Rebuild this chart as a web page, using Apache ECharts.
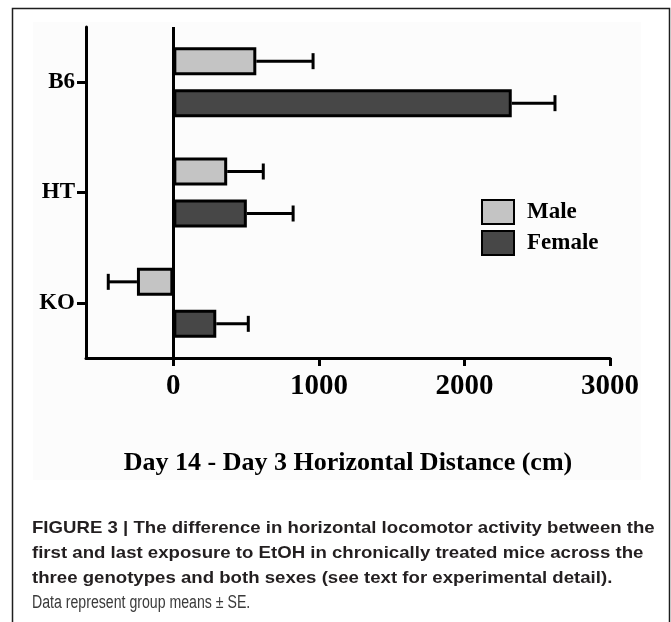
<!DOCTYPE html>
<html>
<head>
<meta charset="utf-8">
<script src="https://cdn.jsdelivr.net/npm/echarts@6/dist/echarts.min.js"></script>
<style>
html,body{margin:0;padding:0;background:#fff;}
#chart{width:671px;height:622px;}
</style>
</head>
<body>
<div id="chart"></div>
<script>
const categories = ['B6', 'HT', 'KO'];
const seriesNames = ['Male', 'Female'];
const maleMeans = [570, 370, -250];
const maleSE = [390, 248, 197];
const femaleMeans = [2325, 505, 295];
const femaleSE = [297, 318, 220];
const xTickValues = [0, 1000, 2000, 3000];
const xMin = -600;
const xMax = 3000;
const xAxisTitle = 'Day 14 - Day 3 Horizontal Distance (cm)';
const captionBold = [
  'FIGURE 3 | The difference in horizontal locomotor activity between the',
  'first and last exposure to EtOH in chronically treated mice across the',
  'three genotypes and both sexes (see text for experimental detail).'
];
const captionRegular = 'Data represent group means \u00b1 SE.';

const SERIF = "'Liberation Serif','Times New Roman',serif";
const SANS = "'Liberation Sans',Arial,sans-serif";
const BAR_W = 28;
const BAR_GAP = '50%';
const OFFSET = 21;

function errData(means, se) {
  return means.map((m, i) => [m, i, se[i]]);
}
function errRender(offset) {
  return function (params, api) {
    const v = api.value(0), ci = api.value(1), se = api.value(2);
    const end = v >= 0 ? v + se : v - se;
    const p0 = api.coord([v, ci]);
    const p1 = api.coord([end, ci]);
    const y = p0[1] + offset;
    const style = { stroke: '#000', lineWidth: 3 };
    return {
      type: 'group',
      children: [
        { type: 'line', shape: { x1: p0[0], y1: y, x2: p1[0], y2: y }, style },
        { type: 'line', shape: { x1: p1[0], y1: y - 8, x2: p1[0], y2: y + 8 }, style }
      ]
    };
  };
}

const chart = echarts.init(document.getElementById('chart'), null, { renderer: 'canvas' });
const graphics = [
  { type: 'rect', z: -10, shape: { x: 33, y: 22, width: 608, height: 458 }, style: { fill: '#fcfcfc' } },
  { type: 'rect', z: 100, shape: { x: 12.5, y: 8.5, width: 657, height: 700 }, style: { fill: 'none', stroke: '#1e1e1e', lineWidth: 1.5 } }
];
captionBold.forEach((t, i) => {
  graphics.push({ type: 'text', x: 32, y: 528 + i * 25, scaleX: 1.095, style: { text: t, font: 'bold 17px ' + SANS, fill: '#231f20', verticalAlign: 'middle' } });
});
graphics.push({ type: 'text', x: 32, y: 603, scaleX: 0.785, style: { text: captionRegular, font: '18px ' + SANS, fill: '#3a3a3a', verticalAlign: 'middle' } });

chart.setOption({
  animation: false,
  backgroundColor: '#ffffff',
  graphic: graphics,
  grid: { left: 86, right: 61, top: 27, height: 331, containLabel: false },
  legend: {
    orient: 'vertical', left: 481, top: 199, padding: 0, itemWidth: 32, itemHeight: 24, itemGap: 5,
    icon: 'rect',
    textStyle: { fontFamily: SERIF, fontWeight: 'bold', fontSize: 23, color: '#000', padding: [0, 0, 0, 8] },
    data: seriesNames
  },
  xAxis: {
    type: 'value', min: xMin, max: xMax,
    name: xAxisTitle, nameLocation: 'middle', nameGap: 92,
    nameTextStyle: { fontFamily: SERIF, fontWeight: 'bold', fontSize: 26, color: '#000' },
    axisLine: { show: true, onZero: false, lineStyle: { color: '#000', width: 3 } },
    axisTick: { show: true, length: 8, lineStyle: { color: '#000', width: 3 }, customValues: xTickValues },
    axisLabel: { fontFamily: SERIF, fontWeight: 'bold', fontSize: 29, color: '#000', margin: 14,
      customValues: xTickValues, formatter: v => String(v) },
    splitLine: { show: false }
  },
  yAxis: {
    type: 'category', inverse: true, data: categories,
    axisLine: { show: true, onZero: false, lineStyle: { color: '#000', width: 3 } },
    axisTick: { show: true, alignWithLabel: true, length: 9, lineStyle: { color: '#000', width: 3 } },
    axisLabel: { fontFamily: SERIF, fontWeight: 'bold', fontSize: 23, color: '#000', margin: 11 },
    splitLine: { show: false }
  },
  series: [
    {
      name: 'Male', type: 'bar', data: maleMeans, barWidth: BAR_W, barGap: BAR_GAP,
      itemStyle: { color: '#c4c4c4', borderColor: '#000', borderWidth: 3 },
      markLine: { silent: true, symbol: 'none', label: { show: false },
        lineStyle: { color: '#000', width: 3, type: 'solid' }, data: [{ xAxis: 0 }] }
    },
    {
      name: 'Female', type: 'bar', data: femaleMeans, barWidth: BAR_W, barGap: BAR_GAP,
      itemStyle: { color: '#474747', borderColor: '#000', borderWidth: 3 }
    },
    { type: 'custom', name: 'MaleErr', data: errData(maleMeans, maleSE), encode: { x: 0, y: 1 }, renderItem: errRender(-OFFSET), z: 1, silent: true },
    { type: 'custom', name: 'FemaleErr', data: errData(femaleMeans, femaleSE), encode: { x: 0, y: 1 }, renderItem: errRender(OFFSET), z: 1, silent: true }
  ]
});
</script>
</body>
</html>
